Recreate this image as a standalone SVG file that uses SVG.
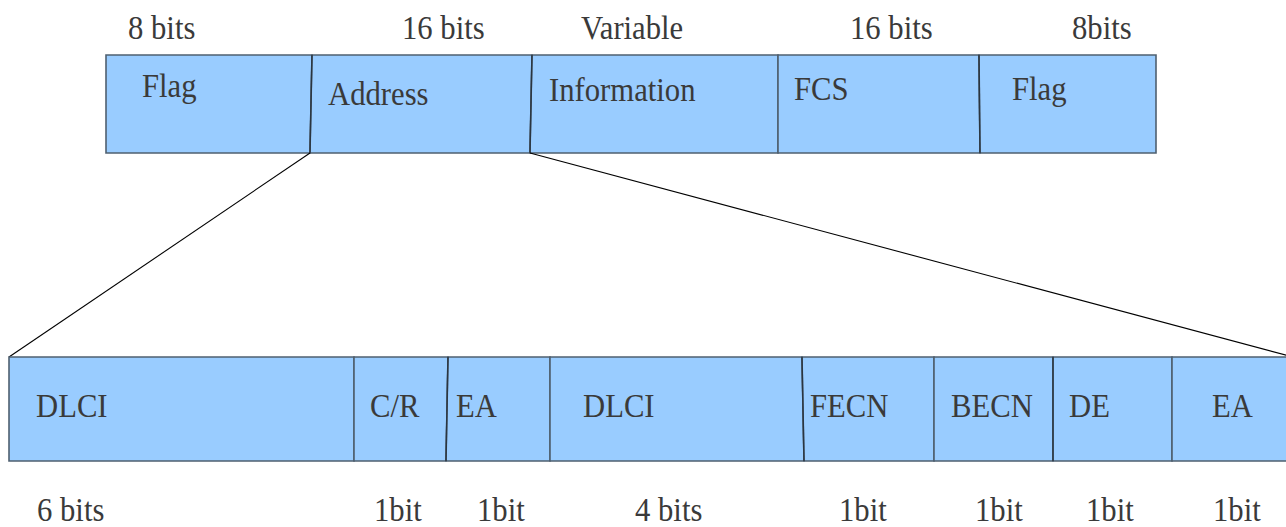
<svg xmlns="http://www.w3.org/2000/svg" width="1286" height="527" viewBox="0 0 1286 527">
<style>
.cell{fill:#99ccff;stroke:#4f6070;stroke-width:1.6}
.div{stroke:#2a3540;stroke-width:1.4;fill:none}
text{font-family:'Liberation Serif','DejaVu Serif',serif;font-size:33px;fill:#3a3a3a}
.con{stroke:#000;stroke-width:1.1;fill:none}
</style>
<rect width="1286" height="527" fill="#ffffff"/>
<g id="top-labels" font-family="Liberation Serif, serif">
<text transform="translate(128,39) scale(0.93,1)">8 bits</text>
<text transform="translate(402,39) scale(0.93,1)">16 bits</text>
<text transform="translate(581,39) scale(0.93,1)">Variable</text>
<text transform="translate(850,39) scale(0.93,1)">16 bits</text>
<text transform="translate(1072,39) scale(0.93,1)">8bits</text>
</g>
<g id="frame">
<g id="flag1"><polygon class="cell" points="106,55 312,55 310,153 106,153"/><text transform="translate(142,97) scale(0.93,1)">Flag</text></g>
<g id="address"><polygon class="cell" points="312,55 532,55 530,153 310,153"/><text transform="translate(328,105) scale(0.93,1)">Address</text></g>
<g id="information"><polygon class="cell" points="532,55 778,55 778,153 530,153"/><text transform="translate(549,101) scale(0.93,1)">Information</text></g>
<g id="fcs"><polygon class="cell" points="778,55 979,55 980,153 778,153"/><text transform="translate(794,100) scale(0.93,1)">FCS</text></g>
<g id="flag2"><polygon class="cell" points="979,55 1156,55 1156,153 980,153"/><text transform="translate(1012,100) scale(0.93,1)">Flag</text></g>
<line class="div" x1="312" y1="55" x2="310" y2="153"/>
<line class="div" x1="532" y1="55" x2="530" y2="153"/>
<line class="div" x1="979" y1="55" x2="980" y2="153"/>
</g>
<g id="connectors">
<line class="con" x1="310" y1="153" x2="9" y2="357"/>
<line class="con" x1="530" y1="153" x2="1293" y2="357"/>
</g>
<g id="address-fields">
<g id="dlci1"><polygon class="cell" points="9,357 354,357 354,461 9,461"/><text transform="translate(36,417) scale(0.93,1)">DLCI</text></g>
<g id="cr"><polygon class="cell" points="354,357 448,357 446,461 354,461"/><text transform="translate(370,417) scale(0.93,1)">C/R</text></g>
<g id="ea1"><polygon class="cell" points="448,357 550,357 550,461 446,461"/><text transform="translate(456,417) scale(0.93,1)">EA</text></g>
<g id="dlci2"><polygon class="cell" points="550,357 802,357 804,461 550,461"/><text transform="translate(583,417) scale(0.93,1)">DLCI</text></g>
<g id="fecn"><polygon class="cell" points="802,357 934,357 934,461 804,461"/><text transform="translate(810,417) scale(0.93,1)">FECN</text></g>
<g id="becn"><polygon class="cell" points="934,357 1053,357 1053,461 934,461"/><text transform="translate(951,417) scale(0.93,1)">BECN</text></g>
<g id="de"><polygon class="cell" points="1053,357 1172,357 1172,461 1053,461"/><text transform="translate(1069,417) scale(0.93,1)">DE</text></g>
<g id="ea2"><polygon class="cell" points="1172,357 1294,357 1294,461 1172,461"/><text transform="translate(1212,417) scale(0.93,1)">EA</text></g>
<line class="div" x1="448" y1="357" x2="446" y2="461"/>
<line class="div" x1="802" y1="357" x2="804" y2="461"/>
<line class="div" x1="1053" y1="357" x2="1053" y2="461"/>
</g>
<g id="bottom-labels">
<text transform="translate(37,521) scale(0.93,1)">6 bits</text>
<text transform="translate(374,521) scale(0.93,1)">1bit</text>
<text transform="translate(477,521) scale(0.93,1)">1bit</text>
<text transform="translate(635,521) scale(0.93,1)">4 bits</text>
<text transform="translate(839,521) scale(0.93,1)">1bit</text>
<text transform="translate(975,521) scale(0.93,1)">1bit</text>
<text transform="translate(1086,521) scale(0.93,1)">1bit</text>
<text transform="translate(1213,521) scale(0.93,1)">1bit</text>
</g>
</svg>
